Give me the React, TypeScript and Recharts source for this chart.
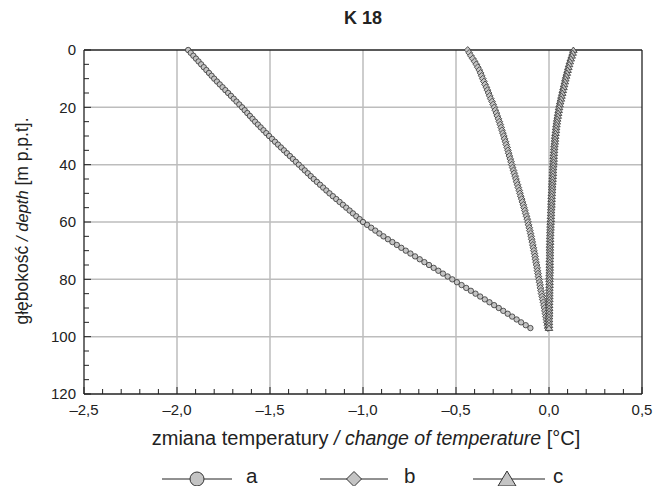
import React from 'react';
import { ScatterChart, Scatter, XAxis, YAxis, CartesianGrid, ReferenceLine } from 'recharts';

// depth below surface [m], one reading per metre
const depth = [
  0, 1, 2, 3, 4, 5, 6, 7, 8, 9, 10, 11, 12, 13, 14, 15, 16, 17, 18, 19,
  20, 21, 22, 23, 24, 25, 26, 27, 28, 29, 30, 31, 32, 33, 34, 35, 36, 37, 38, 39,
  40, 41, 42, 43, 44, 45, 46, 47, 48, 49, 50, 51, 52, 53, 54, 55, 56, 57, 58, 59,
  60, 61, 62, 63, 64, 65, 66, 67, 68, 69, 70, 71, 72, 73, 74, 75, 76, 77, 78, 79,
  80, 81, 82, 83, 84, 85, 86, 87, 88, 89, 90, 91, 92, 93, 94, 95, 96, 97,
];

// change of temperature [°C]
const seriesA = [
  -1.94, -1.926, -1.912, -1.898, -1.884, -1.87, -1.856, -1.842, -1.828, -1.814,
  -1.8, -1.785, -1.77, -1.755, -1.74, -1.725, -1.71, -1.695, -1.68, -1.665,
  -1.65, -1.636, -1.622, -1.608, -1.594, -1.58, -1.565, -1.55, -1.535, -1.52,
  -1.505, -1.489, -1.473, -1.457, -1.441, -1.425, -1.409, -1.393, -1.377, -1.361,
  -1.345, -1.329, -1.313, -1.297, -1.281, -1.265, -1.248, -1.231, -1.214, -1.197,
  -1.18, -1.162, -1.144, -1.126, -1.108, -1.09, -1.072, -1.054, -1.036, -1.018,
  -1.0, -0.978, -0.956, -0.934, -0.912, -0.89, -0.866, -0.842, -0.818, -0.794,
  -0.77, -0.745, -0.72, -0.695, -0.67, -0.645, -0.62, -0.595, -0.57, -0.545,
  -0.52, -0.495, -0.47, -0.445, -0.42, -0.395, -0.37, -0.345, -0.32, -0.295,
  -0.27, -0.246, -0.222, -0.198, -0.174, -0.15, -0.125, -0.1,
];

const seriesB = [
  -0.437, -0.429, -0.42, -0.41, -0.4, -0.391, -0.383, -0.375, -0.368, -0.362,
  -0.356, -0.35, -0.344, -0.337, -0.331, -0.325, -0.319, -0.313, -0.306, -0.3,
  -0.294, -0.289, -0.283, -0.278, -0.272, -0.267, -0.262, -0.257, -0.253, -0.248,
  -0.243, -0.239, -0.234, -0.23, -0.225, -0.221, -0.217, -0.213, -0.208, -0.204,
  -0.2, -0.196, -0.191, -0.187, -0.182, -0.178, -0.174, -0.169, -0.165, -0.16,
  -0.156, -0.152, -0.147, -0.143, -0.138, -0.134, -0.13, -0.126, -0.121, -0.117,
  -0.113, -0.11, -0.106, -0.103, -0.099, -0.096, -0.093, -0.09, -0.087, -0.084,
  -0.081, -0.078, -0.075, -0.073, -0.07, -0.067, -0.064, -0.062, -0.059, -0.057,
  -0.054, -0.051, -0.048, -0.046, -0.043, -0.04, -0.037, -0.034, -0.03, -0.027,
  -0.024, -0.022, -0.019, -0.017, -0.014, -0.012, -0.009, -0.007,
];

const seriesC = [
  0.131, 0.127, 0.122, 0.117, 0.112, 0.108, 0.104, 0.1, 0.096, 0.092,
  0.088, 0.085, 0.081, 0.078, 0.074, 0.071, 0.067, 0.064, 0.06, 0.057,
  0.054, 0.052, 0.049, 0.047, 0.044, 0.042, 0.04, 0.038, 0.037, 0.035,
  0.033, 0.032, 0.031, 0.029, 0.028, 0.027, 0.026, 0.025, 0.025, 0.024,
  0.023, 0.022, 0.021, 0.021, 0.02, 0.019, 0.018, 0.017, 0.017, 0.016,
  0.015, 0.014, 0.014, 0.013, 0.013, 0.012, 0.011, 0.011, 0.01, 0.01,
  0.009, 0.008, 0.008, 0.007, 0.007, 0.006, 0.006, 0.006, 0.005, 0.005,
  0.005, 0.005, 0.005, 0.004, 0.004, 0.004, 0.004, 0.004, 0.003, 0.003,
  0.003, 0.003, 0.003, 0.002, 0.002, 0.002, 0.002, 0.002, 0.001, 0.001,
  0.001, 0.001, 0.001, 0, 0, 0, 0, 0,
];

const tempTicks = [
  -2.5, -2.4, -2.3, -2.2, -2.1, -2.0, -1.9, -1.8, -1.7, -1.6, -1.5, -1.4, -1.3, -1.2, -1.1,
  -1.0, -0.9, -0.8, -0.7, -0.6, -0.5, -0.4, -0.3, -0.2, -0.1, 0.0, 0.1, 0.2, 0.3, 0.4, 0.5,
];
const tempGrid = [-2.0, -1.5, -1.0, -0.5, 0.0];
const depthTicks = [
  0, 5, 10, 15, 20, 25, 30, 35, 40, 45, 50, 55, 60, 65, 70, 75, 80, 85, 90, 95, 100, 105, 110, 115, 120,
];
const depthGrid = [20, 40, 60, 80, 100];

const FONT = '"Liberation Sans", Arial, Helvetica, sans-serif';
const MARK_FILL = '#c4c4c4';
const MARK_STROKE = '#333';

const toPoints = (vals: number[]) => vals.map((v, i) => ({ x: v, y: depth[i] }));

const fmtTemp = (v: number) => {
  const r = Math.round(v * 10) / 10;
  const s = Math.abs(r).toFixed(1).replace('.', ',');
  return r < 0 ? '\u2013' + s : s;
};

const CircleMark = (p: any) => (
  <circle cx={p.cx} cy={p.cy} r={2.7} fill={MARK_FILL} stroke={MARK_STROKE} strokeWidth={0.8} />
);
const DiamondMark = (p: any) => {
  const s = 3.4;
  return (
    <polygon
      points={`${p.cx},${p.cy - s} ${p.cx + s},${p.cy} ${p.cx},${p.cy + s} ${p.cx - s},${p.cy}`}
      fill={MARK_FILL}
      stroke={MARK_STROKE}
      strokeWidth={0.8}
    />
  );
};
const TriangleMark = (p: any) => (
  <polygon
    points={`${p.cx},${p.cy - 3} ${p.cx + 3.8},${p.cy + 2.4} ${p.cx - 3.8},${p.cy + 2.4}`}
    fill={MARK_FILL}
    stroke={MARK_STROKE}
    strokeWidth={0.8}
  />
);

const XTick = ({ x, y, payload }: any) => {
  const v = payload.value;
  const major = Math.abs(v * 2 - Math.round(v * 2)) < 1e-6;
  return (
    <g>
      <line x1={x} x2={x} y1={y} y2={y - (major ? 7 : 5)} stroke="#222" strokeWidth={1} />
      {major && (
        <text x={x} y={y + 21} textAnchor="middle" fontSize={15} fontFamily={FONT} fill="#222">
          {fmtTemp(v)}
        </text>
      )}
    </g>
  );
};

const YTick = ({ x, y, payload }: any) => {
  const v = payload.value;
  const major = v % 20 === 0;
  return (
    <g>
      <line x1={x} x2={x + (major ? 7 : 5)} y1={y} y2={y} stroke="#222" strokeWidth={1} />
      {major && (
        <text x={x - 8} y={y} dy="0.35em" textAnchor="end" fontSize={15} fontFamily={FONT} fill="#222">
          {v}
        </text>
      )}
    </g>
  );
};

const App = () => {
  const legendY = 479;
  return (
    <div style={{ position: 'absolute', left: 0, top: 0, width: 653, height: 486, background: '#fff' }}>
      <ScatterChart width={653} height={486} margin={{ top: 50, right: 11, bottom: 62, left: 24 }}>
        <CartesianGrid
          stroke="#bdbdbd"
          strokeWidth={1.5}
          horizontalValues={depthGrid}
          verticalValues={tempGrid}
        />
        <XAxis
          type="number"
          dataKey="x"
          domain={[-2.5, 0.5]}
          ticks={tempTicks}
          interval={0}
          tick={<XTick />}
          tickLine={false}
          tickSize={0}
          tickMargin={0}
          height={30}
          axisLine={{ stroke: '#222', strokeWidth: 1.3 }}
        />
        <YAxis
          type="number"
          dataKey="y"
          domain={[0, 120]}
          reversed
          ticks={depthTicks}
          interval={0}
          tick={<YTick />}
          tickLine={false}
          tickSize={0}
          tickMargin={0}
          width={60}
          axisLine={{ stroke: '#222', strokeWidth: 1.3 }}
        />
        <ReferenceLine y={0} stroke="#222" strokeWidth={1.3} />
        <ReferenceLine x={0.5} stroke="#222" strokeWidth={1.3} />
        <Scatter
          name="a"
          data={toPoints(seriesA)}
          line={{ stroke: '#333', strokeWidth: 1 }}
          shape={CircleMark}
          isAnimationActive={false}
        />
        <Scatter
          name="b"
          data={toPoints(seriesB)}
          line={{ stroke: '#333', strokeWidth: 1 }}
          shape={DiamondMark}
          isAnimationActive={false}
        />
        <Scatter
          name="c"
          data={toPoints(seriesC)}
          line={{ stroke: '#333', strokeWidth: 1 }}
          shape={TriangleMark}
          isAnimationActive={false}
        />
      </ScatterChart>

      <svg
        width={653}
        height={486}
        style={{ position: 'absolute', left: 0, top: 0, pointerEvents: 'none' }}
        fontFamily={FONT}
      >
        <text x={363} y={24} textAnchor="middle" fontSize={18} fontWeight="bold" fill="#222">
          K 18
        </text>
        <text x={366} y={445} textAnchor="middle" fontSize={20} fill="#222">
          zmiana temperatury <tspan fontStyle="italic" fontSize={19.5}>/ change of temperature</tspan> [°C]
        </text>
        <text
          x={22}
          y={221}
          textAnchor="middle"
          dominantBaseline="central"
          fontSize={17.5}
          fill="#222"
          transform="rotate(-90 22 221)"
        >
          głębokość <tspan fontStyle="italic" fontSize={16.5}>/ depth</tspan> [m p.p.t].
        </text>

        {/* legend */}
        <line x1={162} x2={232} y1={legendY} y2={legendY} stroke="#222" strokeWidth={1} />
        <circle cx={197} cy={legendY} r={7} fill={MARK_FILL} stroke={MARK_STROKE} strokeWidth={1} />
        <text x={246} y={legendY + 4} fontSize={20.5} fill="#222">a</text>

        <line x1={320} x2={388} y1={legendY} y2={legendY} stroke="#222" strokeWidth={1} />
        <polygon
          points={`354,${legendY - 7.5} 361.5,${legendY} 354,${legendY + 7.5} 346.5,${legendY}`}
          fill={MARK_FILL}
          stroke={MARK_STROKE}
          strokeWidth={1}
        />
        <text x={404} y={legendY + 4} fontSize={20.5} fill="#222">b</text>

        <line x1={473} x2={545} y1={legendY} y2={legendY} stroke="#222" strokeWidth={1} />
        <polygon
          points={`507,${legendY - 8} 516,${legendY + 7} 498,${legendY + 7}`}
          fill={MARK_FILL}
          stroke={MARK_STROKE}
          strokeWidth={1}
        />
        <text x={553} y={legendY + 4} fontSize={20.5} fill="#222">c</text>
      </svg>
    </div>
  );
};

export default App;
